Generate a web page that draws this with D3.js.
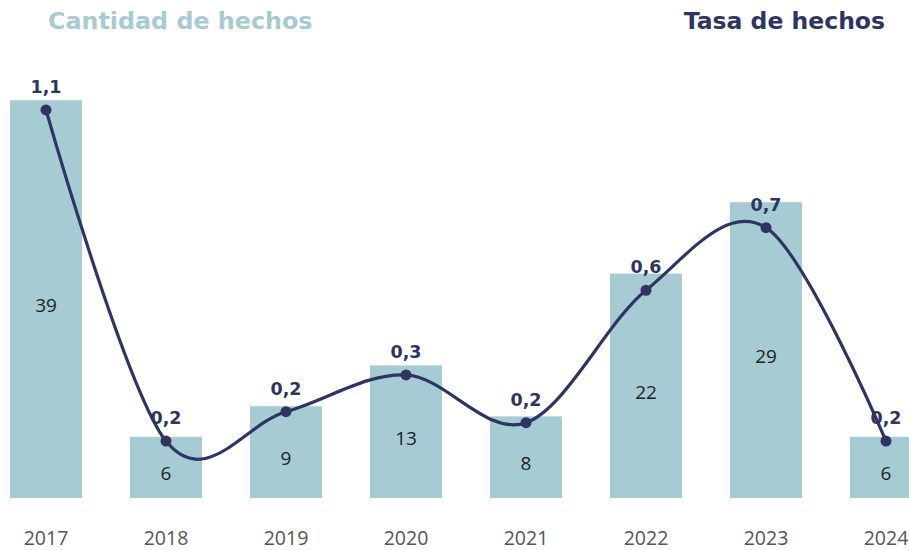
<!DOCTYPE html>
<html>
<head>
<meta charset="utf-8">
<script src="https://cdn.jsdelivr.net/npm/d3@7"></script>
<style>
  html, body { margin: 0; padding: 0; background: #ffffff; }
  svg { display: block; font-family: "Open Sans", "DejaVu Sans", sans-serif; }
</style>
</head>
<body>
<svg id="chart" width="909" height="550"></svg>
<script>
// Hechos por año: cantidad (barras) y tasa (línea)
const years = ["2017", "2018", "2019", "2020", "2021", "2022", "2023", "2024"];
const counts = [39, 6, 9, 13, 8, 22, 29, 6];
const rates = [1.06, 0.16, 0.24, 0.34, 0.21, 0.57, 0.74, 0.16];

const titleLeft = "Cantidad de hechos";
const titleRight = "Tasa de hechos";

const barColor = "#a6cbd3";
const lineColor = "#2e3560";
const boldFont = "'DejaVu Sans', sans-serif";

const svg = d3.select("#chart");

const x = d3.scaleBand()
  .domain(years)
  .range([-14, 946])
  .paddingInner(0.4)
  .paddingOuter(0.2);

const yBar = d3.scaleLinear().domain([0, 40]).range([498, 90]);
const yRate = d3.scaleLinear().domain([0, 1.2]).range([500, 58.4]);

const fmtRate = v => d3.format(".1f")(v).replace(".", ",");

const data = years.map((year, i) => ({ year, count: counts[i], rate: rates[i] }));
const cx = d => x(d.year) + x.bandwidth() / 2;

// Barras
svg.append("g").selectAll("rect")
  .data(data)
  .join("rect")
  .attr("x", d => x(d.year))
  .attr("y", d => yBar(d.count))
  .attr("width", x.bandwidth())
  .attr("height", d => yBar(0) - yBar(d.count))
  .attr("fill", barColor);

// Valores dentro de las barras
svg.append("g").selectAll("text")
  .data(data)
  .join("text")
  .attr("x", cx)
  .attr("y", d => (yBar(d.count) + yBar(0)) / 2 + 8)
  .attr("text-anchor", "middle")
  .attr("dominant-baseline", "middle")
  .attr("font-size", 19)
  .attr("fill", "#222222")
  .text(d => d.count);

// Eje de años
const axis = d3.axisBottom(x).tickSize(0).tickPadding(0);
const gAxis = svg.append("g")
  .attr("transform", "translate(0,531)")
  .call(axis);
gAxis.select(".domain").remove();
gAxis.selectAll("text")
  .attr("font-size", 19.5)
  .attr("font-family", "'Open Sans', sans-serif")
  .attr("fill", "#555555")
  .attr("dy", "0.72em");

// Línea de tasa
const line = d3.line()
  .x(cx)
  .y(d => yRate(d.rate))
  .curve(d3.curveCardinal.tension(0));

svg.append("path")
  .datum(data)
  .attr("d", line)
  .attr("fill", "none")
  .attr("stroke", lineColor)
  .attr("stroke-width", 3.2);

svg.append("g").selectAll("circle")
  .data(data)
  .join("circle")
  .attr("cx", cx)
  .attr("cy", d => yRate(d.rate))
  .attr("r", 5.5)
  .attr("fill", lineColor);

svg.append("g").selectAll("text")
  .data(data)
  .join("text")
  .attr("x", cx)
  .attr("y", d => yRate(d.rate) - 17)
  .attr("text-anchor", "middle")
  .attr("font-family", boldFont)
  .attr("font-size", 17.5)
  .attr("font-weight", 700)
  .attr("fill", lineColor)
  .text(d => fmtRate(d.rate));

// Títulos
svg.append("text")
  .attr("x", 48)
  .attr("y", 29)
  .attr("font-family", boldFont)
  .attr("font-size", 23.8)
  .attr("font-weight", 700)
  .attr("fill", barColor)
  .text(titleLeft);

svg.append("text")
  .attr("x", 885)
  .attr("y", 29)
  .attr("text-anchor", "end")
  .attr("font-family", boldFont)
  .attr("font-size", 23.5)
  .attr("font-weight", 700)
  .attr("fill", lineColor)
  .text(titleRight);
</script>
</body>
</html>
